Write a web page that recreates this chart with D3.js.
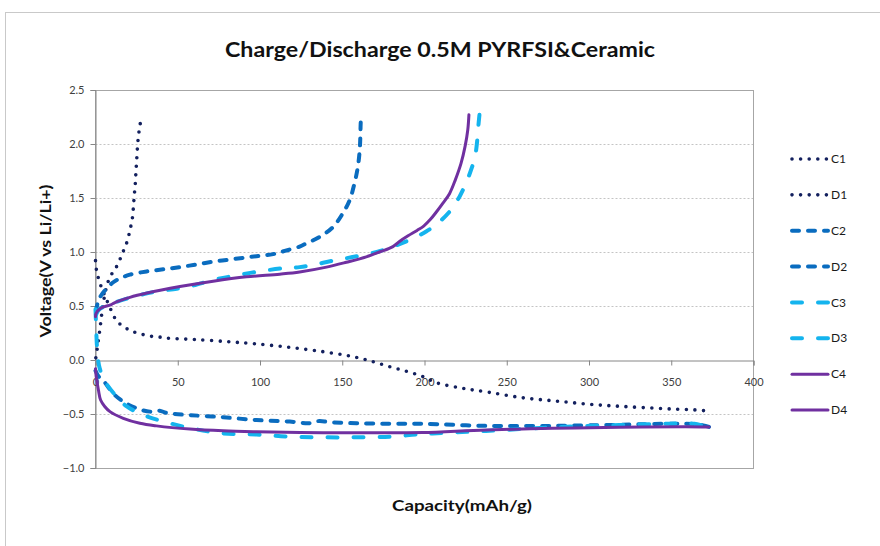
<!DOCTYPE html>
<html>
<head>
<meta charset="utf-8">
<script src="https://cdn.jsdelivr.net/npm/d3@7"></script>
<style>
  body { margin: 0; background: #fff; }
  svg { display: block; }
  text { font-family: Lato, "Open Sans", "DejaVu Sans", sans-serif; }
</style>
</head>
<body>
<svg id="chart" width="880" height="546"></svg>
<script>
// ---- data: [capacity (mAh/g), voltage (V vs Li/Li+)] ----
const capacityTicks = [0, 50, 100, 150, 200, 250, 300, 350, 400];
const voltageTicks = [-1.0, -0.5, 0.0, 0.5, 1.0, 1.5, 2.0, 2.5];
const seriesNames = ["C1", "D1", "C2", "D2", "C3", "D3", "C4", "D4"];

const c1 = [[0.2,0.02],[1.0,0.1],[1.9,0.2],[2.8,0.3],[3.6,0.4],[4.4,0.5],[5.6,0.6],[7.1,0.7],[9.2,0.78],
  [11.9,0.84],[14.4,0.915],[16.4,0.99],[18.4,1.06],[20.0,1.14],[21.2,1.22],[22.2,1.29],[22.8,1.37],
  [23.2,1.45],[23.6,1.53],[24.1,1.61],[24.4,1.69],[24.7,1.77],[25.0,1.84],[25.3,1.92],[25.7,2.01],
  [26.2,2.085],[26.9,2.16],[27.9,2.25]];
const d1 = [[0,0.92],[0.6,0.83],[1.9,0.75],[3.9,0.66],[6.4,0.57],[9.2,0.47],[13.0,0.36],[17.1,0.31],
  [21.4,0.27],[25.4,0.25],[30.4,0.23],[35.4,0.216],[40.4,0.21],[45.4,0.2],[60,0.19],[80,0.17],
  [96.8,0.15],[118,0.117],[138.3,0.077],[154.5,0.037],[163.6,0.006],[168.6,-0.015],[178.8,-0.062],
  [187.9,-0.099],[198,-0.148],[207.1,-0.21],[223.3,-0.262],[239.5,-0.30],[259.7,-0.35],[280,-0.38],
  [300.2,-0.41],[320.4,-0.43],[344.7,-0.45],[360.9,-0.46],[370,-0.47],[373,-0.49]];
const c2 = [[0.3,0.45],[1.2,0.52],[2.7,0.58],[5.5,0.64],[10.8,0.72],[15.5,0.76],[20.9,0.79],[31.1,0.82],
  [41.5,0.84],[51.3,0.86],[61.5,0.885],[71.5,0.91],[81.7,0.93],[91.8,0.95],[100,0.965],[107.9,0.98],
  [115,1.01],[124.1,1.05],[128.2,1.08],[136.3,1.14],[144.3,1.23],[150.4,1.36],[154.5,1.48],
  [157.5,1.64],[159.5,1.79],[160.6,1.94],[161,2.07],[161.2,2.19],[161.6,2.28]];
const d2 = [[0,-0.10],[1.8,-0.15],[4.7,-0.19],[10.8,-0.31],[16.9,-0.386],[25,-0.447],[33.1,-0.478],
  [39,-0.47],[43.2,-0.49],[57.4,-0.51],[77.6,-0.53],[97.9,-0.556],[118.1,-0.57],[130,-0.585],
  [136,-0.565],[142,-0.575],[158.6,-0.586],[178.8,-0.59],[199,-0.59],[237.4,-0.61],[277.9,-0.61],
  [318.4,-0.60],[348.4,-0.59],[366,-0.595],[373,-0.62]];
const c3 = [[0.3,0.42],[2.4,0.47],[9.4,0.52],[19.4,0.57],[29.4,0.61],[39.4,0.64],[49.4,0.66],[59.4,0.69],
  [71.4,0.74],[84.4,0.78],[99.4,0.82],[114.4,0.85],[124.1,0.86],[132.2,0.88],[144.4,0.92],
  [158.7,0.96],[171,1.0],[180.8,1.05],[190.6,1.11],[201,1.19],[209.1,1.28],[216.1,1.39],
  [221.2,1.51],[225.3,1.64],[228.3,1.76],[230.7,1.88],[232.1,2.04],[232.7,2.16],[233.4,2.27]];
const d3v = [[0,0.47],[0.4,0.3],[0.8,0.15],[1.6,0.0],[2.6,-0.08],[5.8,-0.2],[12.9,-0.34],[19,-0.43],
  [29.3,-0.51],[41.5,-0.57],[57.4,-0.63],[77.6,-0.68],[97.9,-0.69],[118.1,-0.71],[138.3,-0.716],
  [158.6,-0.716],[178.8,-0.71],[195,-0.69],[205,-0.68],[237.4,-0.657],[277.9,-0.623],[318.4,-0.603],
  [348.4,-0.59],[364,-0.59],[374,-0.63]];
const c4 = [[0,0.40],[0.3,0.43],[3.1,0.48],[9.2,0.51],[11.5,0.53],[20.9,0.58],[31.3,0.62],[51.3,0.68],
  [71.5,0.73],[91.8,0.77],[112,0.795],[124.1,0.815],[140.4,0.86],[152.5,0.905],[164.6,0.955],
  [172.7,1.0],[180.8,1.05],[185,1.10],[190,1.15],[195.5,1.20],[199.5,1.24],[203.5,1.30],[207.2,1.37],
  [211.1,1.45],[215.2,1.54],[218.8,1.67],[222.2,1.82],[224.7,1.98],[226.3,2.13],[227,2.27]];
const d4 = [[0,-0.08],[0.4,-0.15],[0.9,-0.2],[1.8,-0.28],[3.1,-0.37],[5.6,-0.43],[8.8,-0.478],
  [16.9,-0.54],[27,-0.586],[37.1,-0.61],[57.4,-0.64],[77.6,-0.656],[97.9,-0.664],[138.3,-0.673],
  [178.8,-0.673],[199,-0.672],[237.4,-0.648],[277.9,-0.633],[318.4,-0.623],[358.4,-0.617],[373,-0.62]];

const seriesData = [c1, d1, c2, d2, c3, d3v, c4, d4];

// ---- line styles per cycle ----
const cycleStyle = [
  { color: "#13205e", width: 3.6, dash: "0,8.6", cap: "round" },   // cycle 1: round dots
  { color: "#0a6cbf", width: 4,   dash: "7,9",   cap: "round" },   // cycle 2: dash
  { color: "#14b4ee", width: 4,   dash: "10,16", cap: "round" },   // cycle 3: long dash
  { color: "#7030a0", width: 3,   dash: null,    cap: "round" }    // cycle 4: solid
];

const svg = d3.select("#chart");
svg.append("rect").attr("width", 880).attr("height", 546).attr("fill", "#fff");

// chart frame
svg.append("rect")
  .attr("x", 5.5).attr("y", 12.5).attr("width", 900).attr("height", 600)
  .attr("fill", "none").attr("stroke", "#c9c9c9").attr("stroke-width", 1);

const x = d3.scaleLinear().domain([0, 400]).range([95.5, 753.5]);
const y = d3.scaleLinear().domain([-1.0, 2.5]).range([468, 90]);

// gridlines
svg.append("g").selectAll("line")
  .data(voltageTicks.filter(v => v !== 0 && v !== -1.0 && v !== 2.5))
  .join("line")
  .attr("x1", x(0)).attr("x2", x(400))
  .attr("y1", d => Math.round(y(d)) + 0.5).attr("y2", d => Math.round(y(d)) + 0.5)
  .attr("stroke", "#c4c4c4").attr("stroke-width", 1).attr("stroke-dasharray", "2,2");

// plot area border
svg.append("rect")
  .attr("x", x(0)).attr("y", Math.round(y(2.5)) + 0.5)
  .attr("width", x(400) - x(0)).attr("height", y(-1.0) - y(2.5))
  .attr("fill", "none").attr("stroke", "#a6a6a6").attr("stroke-width", 1);

// axes
const yAxis = d3.axisLeft(y).tickValues(voltageTicks).tickFormat(d3.format(".1f"))
  .tickSize(5).tickPadding(6);
const gy = svg.append("g").attr("transform", `translate(${x(0)},0)`).call(yAxis);

const xAxis = d3.axisBottom(x).tickValues(capacityTicks).tickFormat(d3.format("d"))
  .tickSize(5).tickPadding(13);
const gx = svg.append("g").attr("transform", `translate(0,${Math.round(y(0)) + 0.5})`).call(xAxis);

[gx, gy].forEach(g => {
  g.select(".domain").attr("stroke", "#868686");
  g.selectAll(".tick line").attr("stroke", "#868686");
  g.selectAll(".tick text").attr("fill", "#404040").style("font-size", "11px")
    .style("font-family", "Lato, 'Open Sans', sans-serif");
});

// series
const line = d3.line().x(d => x(d[0])).y(d => y(d[1])).curve(d3.curveCatmullRom.alpha(0.5));
seriesData.forEach((pts, i) => {
  const st = cycleStyle[Math.floor(i / 2)];
  svg.append("path")
    .datum(pts)
    .attr("d", line)
    .attr("fill", "none")
    .attr("stroke", st.color)
    .attr("stroke-width", st.width)
    .attr("stroke-linecap", st.cap)
    .attr("stroke-linejoin", "round")
    .attr("stroke-dasharray", st.dash);
});

// legend
const legendY = d3.scaleLinear().domain([0, 7]).range([159, 410]);
const lg = svg.append("g");
seriesNames.forEach((name, i) => {
  const st = cycleStyle[Math.floor(i / 2)];
  const ly = legendY(i);
  lg.append("line")
    .attr("x1", 792).attr("x2", 828).attr("y1", ly).attr("y2", ly)
    .attr("stroke", st.color).attr("stroke-width", st.width)
    .attr("stroke-linecap", st.cap).attr("stroke-dasharray", st.dash);
  lg.append("text")
    .attr("x", 831).attr("y", ly).attr("dy", "0.35em")
    .attr("fill", "#1a1a1a").style("font-size", "12px")
    .text(name);
});

// titles
svg.append("text")
  .attr("x", 440).attr("y", 57).attr("text-anchor", "middle")
  .attr("textLength", 430).attr("lengthAdjust", "spacingAndGlyphs")
  .style("font-size", "21px").style("font-weight", "bold").attr("fill", "#111")
  .text("Charge/Discharge 0.5M PYRFSI&Ceramic");

svg.append("text")
  .attr("transform", "translate(51,261) rotate(-90)").attr("text-anchor", "middle")
  .attr("textLength", 153).attr("lengthAdjust", "spacingAndGlyphs")
  .style("font-size", "15.5px").style("font-weight", "bold").attr("fill", "#111")
  .text("Voltage(V vs Li/Li+)");

svg.append("text")
  .attr("x", 462).attr("y", 511).attr("text-anchor", "middle")
  .attr("textLength", 140).attr("lengthAdjust", "spacingAndGlyphs")
  .style("font-size", "16px").style("font-weight", "bold").attr("fill", "#111")
  .text("Capacity(mAh/g)");
</script>
</body>
</html>
